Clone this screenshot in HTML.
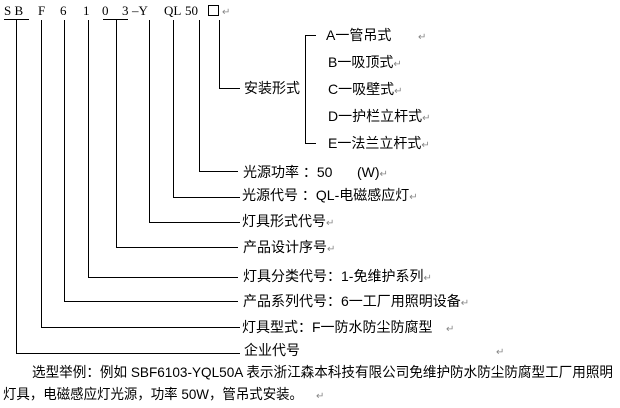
<!DOCTYPE html>
<html><head><meta charset="utf-8"><style>
html,body{margin:0;padding:0;background:#fff;}
svg{display:block;}
text{font-family:"Liberation Serif","Noto Sans CJK SC",serif;font-size:13px;fill:#000;}
.c{font-family:"Liberation Sans","Noto Sans CJK SC",sans-serif;font-size:14px;}
.r{fill:#888;font-size:10px;}
</style></head><body>
<svg width="620" height="408" viewBox="0 0 620 408" xmlns="http://www.w3.org/2000/svg">
<g stroke="#000" stroke-width="1" fill="none" shape-rendering="crispEdges">
<line x1="4" y1="19.5" x2="29" y2="19.5"/>
<line x1="103" y1="19.5" x2="128" y2="19.5"/>
<line x1="16.5" y1="19" x2="16.5" y2="353.5"/><line x1="16" y1="353.5" x2="240" y2="353.5"/>
<line x1="41.5" y1="20" x2="41.5" y2="327.5"/><line x1="41" y1="327.5" x2="240" y2="327.5"/>
<line x1="64.5" y1="20" x2="64.5" y2="301.5"/><line x1="64" y1="301.5" x2="238" y2="301.5"/>
<line x1="88.5" y1="20" x2="88.5" y2="277.5"/><line x1="88" y1="277.5" x2="238" y2="277.5"/>
<line x1="116.5" y1="19" x2="116.5" y2="247.5"/><line x1="116" y1="247.5" x2="238" y2="247.5"/>
<line x1="149.5" y1="20" x2="149.5" y2="222.5"/><line x1="149" y1="222.5" x2="240" y2="222.5"/>
<line x1="173.5" y1="20" x2="173.5" y2="197.5"/><line x1="173" y1="197.5" x2="240" y2="197.5"/>
<line x1="199.5" y1="20" x2="199.5" y2="171.5"/><line x1="199" y1="171.5" x2="238" y2="171.5"/>
<line x1="219.5" y1="20" x2="219.5" y2="88.5"/><line x1="219" y1="88.5" x2="240" y2="88.5"/>
<line x1="305.5" y1="35" x2="305.5" y2="144"/>
<line x1="305" y1="35.5" x2="316" y2="35.5"/>
<line x1="305" y1="143.5" x2="316" y2="143.5"/>
<rect x="208.5" y="5.5" width="10" height="10"/>
</g>
<text x="4" y="15">S B</text>
<text x="38" y="15">F</text>
<text x="60" y="15">6</text>
<text x="83" y="15">1</text>
<text x="102" y="15">0</text>
<text x="122" y="15">3</text>
<text x="132" y="15">–Y</text>
<text x="164" y="15">QL</text>
<text x="185" y="15">50</text>
<text class="r" x="222" y="15">↵</text>
<text class="c" x="244" y="93">安装形式</text>
<text class="c" x="326" y="40">A一管吊式</text><text class="r" x="418" y="40">↵</text>
<text class="c" x="328" y="67">B一吸顶式<tspan class="r">↵</tspan></text>
<text class="c" x="328" y="94">C一吸壁式<tspan class="r">↵</tspan></text>
<text class="c" x="328" y="121">D一护栏立杆式<tspan class="r">↵</tspan></text>
<text class="c" x="328" y="148">E一法兰立杆式<tspan class="r">↵</tspan></text>
<text class="c" x="243" y="177">光源功率 ：50 <tspan x="357">(W)</tspan><tspan class="r">↵</tspan></text>
<text class="c" x="242" y="200">光源代号 ：QL-电磁感应灯<tspan class="r">↵</tspan></text>
<text class="c" x="242" y="226">灯具形式代号<tspan class="r">↵</tspan></text>
<text class="c" x="243" y="252">产品设计序号<tspan class="r">↵</tspan></text>
<text class="c" x="243" y="281">灯具分类代号：1-免维护系列<tspan class="r">↵</tspan></text>
<text class="c" x="243" y="306">产品系列代号：6一工厂用照明设备<tspan class="r">↵</tspan></text>
<text class="c" x="242" y="332">灯具型式：F一防水防尘防腐型</text><text class="r" x="446" y="332">↵</text>
<text class="c" x="244" y="355">企业代号</text><text class="r" x="496" y="355">↵</text>
<text class="c" x="32" y="377" textLength="581" lengthAdjust="spacingAndGlyphs">选型举例：例如 SBF6103-YQL50A 表示浙江森本科技有限公司免维护防水防尘防腐型工厂用照明</text>
<text class="c" x="3" y="399" textLength="300" lengthAdjust="spacingAndGlyphs">灯具，电磁感应灯光源，功率 50W，管吊式安装。</text>
<text class="r" x="316" y="399">↵</text>
</svg>
</body></html>
